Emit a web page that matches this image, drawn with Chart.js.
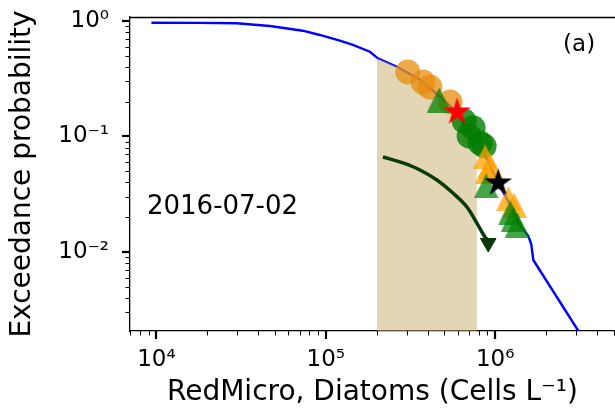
<!DOCTYPE html>
<html>
<head>
<meta charset="utf-8">
<script src="https://cdn.jsdelivr.net/npm/chart.js@4"></script>
<style>
  html, body { margin: 0; padding: 0; background: #fff; }
  #wrap { width: 615px; height: 414px; }
</style>
</head>
<body>
<div id="wrap"><canvas id="chart" width="615" height="414"></canvas></div>
<script>
// Axis ranges and decade labels
const X_MIN = 6980, X_MAX = 5.1e6;
const Y_MIN = 0.00207, Y_MAX = 1.083;
const xDecades = [1e4, 1e5, 1e6];
const yDecades = [1e-2, 1e-1, 1];

// Exceedance curve (blue)
const curveX = [9340, 17900, 29700, 46700, 73100, 92100, 121000, 144500, 182000, 203000,
    263000, 360000, 473000, 588000, 692000, 815000, 910000, 1042000, 1228000, 1368000,
    1567000, 1633000, 1679000, 3100000];
const curveP = [0.967, 0.963, 0.955, 0.905, 0.824, 0.757, 0.675, 0.620, 0.542, 0.475,
    0.402, 0.308, 0.221, 0.163, 0.114, 0.0844, 0.060, 0.0396, 0.0255, 0.0178,
    0.0138, 0.0117, 0.00853, 0.00207];

// Shaded band under the curve
const bandX = [200000, 263000, 360000, 473000, 588000, 692000, 780000];
const bandP = [0.478, 0.402, 0.308, 0.221, 0.163, 0.114, 0.091];

// Markers
const orangeCircX = [305000, 375000, 412000, 542000];
const orangeCircP = [0.362, 0.296, 0.268, 0.199];
const greenCircX = [656000, 741000, 702000, 815000, 861000];
const greenCircP = [0.136, 0.119, 0.101, 0.0879, 0.0827];
const orangeTriX = [873000, 934000, 895000, 1194000, 1295000];
const orangeTriP = [0.0665, 0.0555, 0.0493, 0.0288, 0.0255];
const greenTriX = [467000, 885000, 1228000, 1280000, 1350000];
const greenTriP = [0.207, 0.0373, 0.0218, 0.0193, 0.0171];
const redStarX = [596000];
const redStarP = [0.163];
const blackStarX = [1042000];
const blackStarP = [0.0396];

// Curved arrow
const arrowX = [217500, 285500, 359600, 453200, 563200, 681300, 780400, 869900, 900000];
const arrowP = [0.0665, 0.0590, 0.0513, 0.0420, 0.0324, 0.0245, 0.0178, 0.0135, 0.0128];
const arrowHeadX = [910000];
const arrowHeadP = [0.01197];

const dateLabel = '2016-07-02';
const panelLabel = '(a)';

const FONT = "'DejaVu Sans', sans-serif";

function pts(xs, ys) {
    return xs.map((x, i) => ({ x: x, y: ys[i] }));
}

// 1..9 x 10^n ticks inside a range
function logTicks(min, max) {
    const out = [];
    for (let e = Math.floor(Math.log10(min)); e <= Math.ceil(Math.log10(max)); e++) {
        for (let m = 1; m < 10; m++) {
            const v = m * Math.pow(10, e);
            if (v >= min && v <= max) out.push(v);
        }
    }
    return out;
}

function isDecade(v) {
    const l = Math.log10(v);
    return Math.abs(l - Math.round(l)) < 1e-9;
}

const SUP = { '-': '\u207B', '0': '\u2070', '1': '\u00B9', '2': '\u00B2', '3': '\u00B3',
    '4': '\u2074', '5': '\u2075', '6': '\u2076', '7': '\u2077', '8': '\u2078', '9': '\u2079' };

function powLabel(v) {
    const e = Math.round(Math.log10(v));
    return '10' + String(e).split('').map(c => SUP[c]).join('');
}

function starImage(color, r) {
    const s = Math.ceil(r * 2 + 2);
    const c = document.createElement('canvas');
    c.width = s; c.height = s;
    const g = c.getContext('2d');
    g.translate(s / 2, s / 2);
    g.beginPath();
    for (let i = 0; i < 10; i++) {
        const rad = i % 2 ? r * 0.382 : r;
        const a = -Math.PI / 2 + i * Math.PI / 5;
        g.lineTo(rad * Math.cos(a), rad * Math.sin(a));
    }
    g.closePath();
    g.fillStyle = color;
    g.fill();
    return c;
}

function triangleImage(color, w, h) {
    const c = document.createElement('canvas');
    c.width = w; c.height = h;
    const g = c.getContext('2d');
    g.beginPath();
    g.moveTo(w / 2, 0);
    g.lineTo(w, h);
    g.lineTo(0, h);
    g.closePath();
    g.fillStyle = color;
    g.fill();
    return c;
}

// keep the plot box fixed: drop the label overflow padding Chart.js adds
function fixBox(size) {
    return scale => {
        if (scale.isHorizontal()) scale.height = size; else scale.width = size;
        scale.paddingTop = 0;
        scale.paddingBottom = 0;
        scale.paddingLeft = 0;
        scale.paddingRight = 0;
    };
}

// Tick marks (long for decades, short for minor) and the top spine
const tickMarks = {
    id: 'tickMarks',
    afterDraw(chart) {
        const ctx = chart.ctx;
        const { left, right, top, bottom } = chart.chartArea;
        const xs = chart.scales.x, ys = chart.scales.y;
        ctx.save();
        ctx.strokeStyle = '#000';
        xs.ticks.forEach(t => {
            const major = isDecade(t.value);
            const px = Math.round(xs.getPixelForValue(t.value)) + (major ? 0 : 0.5);
            ctx.lineWidth = major ? 2.2 : 1;
            ctx.beginPath();
            ctx.moveTo(px, bottom);
            ctx.lineTo(px, bottom + (major ? 8 : 4.5));
            ctx.stroke();
        });
        ys.ticks.forEach(t => {
            const major = isDecade(t.value);
            const py = Math.round(ys.getPixelForValue(t.value)) + (major ? 0 : 0.5);
            ctx.lineWidth = major ? 2.2 : 1;
            ctx.beginPath();
            ctx.moveTo(left, py);
            ctx.lineTo(left - (major ? 8 : 4.5), py);
            ctx.stroke();
        });
        ctx.lineWidth = 1.3;
        ctx.beginPath();
        ctx.moveTo(left, top + 0.5);
        ctx.lineTo(right, top + 0.5);
        ctx.stroke();
        ctx.restore();
    }
};

// Text placed in axes fractions
const panelText = {
    id: 'panelText',
    afterDraw(chart) {
        const ctx = chart.ctx;
        const { left, top, width, height } = chart.chartArea;
        ctx.save();
        ctx.fillStyle = '#000';
        ctx.textBaseline = 'middle';
        ctx.font = '26px ' + FONT;
        ctx.textAlign = 'left';
        ctx.fillText(dateLabel, left + 0.035 * width, top + 0.605 * height);
        ctx.font = '23px ' + FONT;
        ctx.textAlign = 'center';
        ctx.fillText(panelLabel, left + 0.926 * width, top + 0.089 * height);
        ctx.restore();
    }
};

const ctx = document.getElementById('chart').getContext('2d');
new Chart(ctx, {
    type: 'scatter',
    data: {
        datasets: [
            {
                label: 'arrow head',
                data: pts(arrowHeadX, arrowHeadP),
                pointStyle: 'triangle',
                pointRotation: 180,
                pointRadius: 9,
                backgroundColor: '#0a3a0a',
                borderColor: '#0a3a0a',
                borderWidth: 1,
                order: 0
            },
            {
                label: 'arrow',
                data: pts(arrowX, arrowP),
                showLine: true,
                borderColor: '#0a3a0a',
                borderWidth: 3.5,
                pointRadius: 0,
                cubicInterpolationMode: 'monotone',
                order: 1
            },
            {
                label: 'black star',
                data: pts(blackStarX, blackStarP),
                pointStyle: starImage('#000000', 14.5),
                order: 2
            },
            {
                label: 'red star',
                data: pts(redStarX, redStarP),
                pointStyle: starImage('#ff0000', 14.5),
                order: 3
            },
            {
                label: 'green triangles',
                data: pts(greenTriX, greenTriP),
                pointStyle: triangleImage('rgba(0,128,0,0.72)', 25, 25),
                order: 4
            },
            {
                label: 'orange triangles',
                data: pts(orangeTriX, orangeTriP),
                pointStyle: triangleImage('rgba(255,160,0,0.75)', 25, 25),
                order: 5
            },
            {
                label: 'green circles',
                data: pts(greenCircX, greenCircP),
                pointStyle: 'circle',
                pointRadius: 12.5,
                backgroundColor: 'rgba(0,125,0,0.8)',
                borderWidth: 0,
                order: 6
            },
            {
                label: 'orange circles',
                data: pts(orangeCircX, orangeCircP),
                pointStyle: 'circle',
                pointRadius: 12.5,
                backgroundColor: 'rgba(232,140,15,0.75)',
                borderWidth: 0,
                order: 7
            },
            {
                label: 'band',
                data: pts(bandX, bandP),
                showLine: true,
                fill: 'start',
                backgroundColor: 'rgba(197,173,105,0.5)',
                borderColor: 'rgba(197,173,105,0.3)',
                borderWidth: 0,
                pointRadius: 0,
                order: 8
            },
            {
                label: 'exceedance',
                data: pts(curveX, curveP),
                showLine: true,
                borderColor: '#0000ff',
                borderWidth: 2.4,
                pointRadius: 0,
                order: 9
            }
        ]
    },
    options: {
        responsive: false,
        animation: false,
        events: [],
        layout: {
            autoPadding: false,
            padding: { top: 17, right: 0, bottom: 0, left: 0 }
        },
        plugins: {
            legend: { display: false },
            tooltip: { enabled: false }
        },
        scales: {
            x: {
                type: 'logarithmic',
                min: X_MIN,
                max: X_MAX,
                afterBuildTicks: scale => {
                    scale.ticks = logTicks(X_MIN, X_MAX).map(v => ({ value: v }));
                },
                afterFit: fixBox(83),
                grid: { display: false, drawTicks: false },
                border: { display: true, color: '#000', width: 1.3 },
                ticks: {
                    autoSkip: false,
                    maxRotation: 0,
                    padding: 15,
                    color: '#000',
                    font: { family: FONT, size: 23 },
                    callback: value => xDecades.some(d => Math.abs(d - value) / d < 1e-6) ? powLabel(value) : ''
                },
                title: {
                    display: true,
                    text: 'RedMicro, Diatoms (Cells L\u207B\u00B9)',
                    color: '#000',
                    font: { family: FONT, size: 28 },
                    padding: { top: 0, bottom: 4 }
                }
            },
            y: {
                type: 'logarithmic',
                min: Y_MIN,
                max: Y_MAX,
                afterBuildTicks: scale => {
                    scale.ticks = logTicks(Y_MIN, Y_MAX).map(v => ({ value: v }));
                },
                afterFit: fixBox(130),
                grid: { display: false, drawTicks: false },
                border: { display: true, color: '#000', width: 1.3 },
                ticks: {
                    autoSkip: false,
                    padding: 21,
                    color: '#000',
                    font: { family: FONT, size: 23 },
                    callback: value => yDecades.some(d => Math.abs(d - value) / d < 1e-6) ? powLabel(value) : ''
                },
                title: {
                    display: true,
                    text: 'Exceedance probability',
                    color: '#000',
                    font: { family: FONT, size: 28 },
                    padding: { top: 6, bottom: 0 }
                }
            }
        }
    },
    plugins: [tickMarks, panelText]
});
</script>
</body>
</html>
